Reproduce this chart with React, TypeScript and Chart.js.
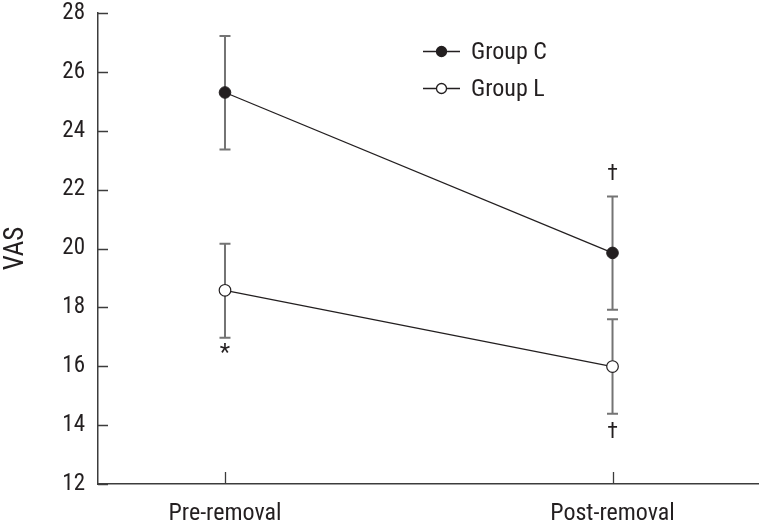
import React, { useEffect, useRef } from "react";
import { Chart, registerables } from "chart.js";

Chart.register(...registerables);

const categories = ["Pre-removal", "Post-removal"];
const categoryX = [0, 1];
const seriesNames = ["Group C", "Group L"];
const groupCMean = [25.3, 19.85];
const groupCLow = [23.36, 17.92];
const groupCHigh = [27.22, 21.77];
const groupLMean = [18.58, 15.99];
const groupLLow = [16.97, 14.39];
const groupLHigh = [20.16, 17.6];
const yTicks = [12, 14, 16, 18, 20, 22, 24, 26, 28];
// significance marks: category index, series, end of error bar, symbol
const markCategory = [0, 1, 1];
const markSeries = ["L", "C", "L"];
const markEnd = ["low", "high", "low"];
const markSymbol = ["*", "\u2020", "\u2020"];

const FONT = "'Liberation Sans Narrow', 'Roboto Condensed', 'Arial Narrow', Roboto, sans-serif";
const INK = "#231f20";
const AXIS = "#3c3c3c";
const ERR = "#747474";

const overlayPlugin = {
  id: "overlay",
  beforeDatasetsDraw(chart: any) {
    const { ctx, scales } = chart;
    const xs = scales.x;
    const ys = scales.y;
    ctx.save();
    ctx.strokeStyle = ERR;
    ctx.lineWidth = 2;
    const groups = [
      { lo: groupCLow, hi: groupCHigh },
      { lo: groupLLow, hi: groupLHigh },
    ];
    groups.forEach((g) => {
      categoryX.forEach((cx, i) => {
        const px = xs.getPixelForValue(cx);
        const pl = ys.getPixelForValue(g.lo[i]);
        const ph = ys.getPixelForValue(g.hi[i]);
        ctx.beginPath();
        ctx.moveTo(px, pl);
        ctx.lineTo(px, ph);
        ctx.moveTo(px - 5.5, pl);
        ctx.lineTo(px + 5.5, pl);
        ctx.moveTo(px - 5.5, ph);
        ctx.lineTo(px + 5.5, ph);
        ctx.stroke();
      });
    });
    ctx.restore();
  },
  afterDraw(chart: any) {
    const { ctx, scales, chartArea } = chart;
    const xs = scales.x;
    const ys = scales.y;
    ctx.save();
    ctx.strokeStyle = AXIS;
    ctx.lineWidth = 1.3;
    ctx.beginPath();
    yTicks.forEach((v) => {
      const py = Math.round(ys.getPixelForValue(v)) + 0.5;
      ctx.moveTo(chartArea.left, py);
      ctx.lineTo(chartArea.left + 10, py);
    });
    categoryX.forEach((cx) => {
      const px = Math.round(xs.getPixelForValue(cx)) + 0.5;
      ctx.moveTo(px, chartArea.bottom);
      ctx.lineTo(px, chartArea.bottom - 12);
    });
    ctx.stroke();

    ctx.fillStyle = INK;
    ctx.textAlign = "center";
    ctx.textBaseline = "middle";
    markCategory.forEach((ci, k) => {
      const isC = markSeries[k] === "C";
      const vals =
        markEnd[k] === "low"
          ? isC ? groupCLow : groupLLow
          : isC ? groupCHigh : groupLHigh;
      const px = xs.getPixelForValue(categoryX[ci]);
      const py = ys.getPixelForValue(vals[ci]);
      const sym = markSymbol[k];
      if (sym === "*") {
        ctx.font = `24px ${FONT}`;
        ctx.fillText(sym, px, py + 16);
      } else {
        ctx.font = `22px ${FONT}`;
        ctx.fillText(sym, px, py + (markEnd[k] === "low" ? 19 : -22));
      }
    });

    const rows = [
      { y: 51.5, fill: INK },
      { y: 88.5, fill: "#ffffff" },
    ];
    rows.forEach((r, i) => {
      ctx.strokeStyle = INK;
      ctx.lineWidth = 1.3;
      ctx.beginPath();
      ctx.moveTo(423, r.y);
      ctx.lineTo(460, r.y);
      ctx.stroke();
      ctx.beginPath();
      ctx.arc(441.5, r.y, 5, 0, Math.PI * 2);
      ctx.fillStyle = r.fill;
      ctx.fill();
      ctx.stroke();
      ctx.fillStyle = INK;
      ctx.textAlign = "left";
      ctx.textBaseline = "middle";
      ctx.font = `24px ${FONT}`;
      ctx.fillText(seriesNames[i], 471, r.y + 1);
    });
    ctx.restore();
  },
};

export default function App() {
  const ref = useRef<HTMLCanvasElement | null>(null);
  useEffect(() => {
    if (!ref.current) return;
    const chart = new Chart(ref.current, {
      type: "line",
      data: {
        datasets: [
          {
            label: seriesNames[0],
            data: categoryX.map((x, i) => ({ x, y: groupCMean[i] })),
            borderColor: INK,
            borderWidth: 1.3,
            backgroundColor: INK,
            pointBackgroundColor: INK,
            pointBorderColor: INK,
            pointRadius: 5.8,
            pointBorderWidth: 1,
          },
          {
            label: seriesNames[1],
            data: categoryX.map((x, i) => ({ x, y: groupLMean[i] })),
            borderColor: INK,
            borderWidth: 1.3,
            backgroundColor: "#ffffff",
            pointBackgroundColor: "#ffffff",
            pointBorderColor: INK,
            pointRadius: 5.8,
            pointBorderWidth: 1.2,
          },
        ],
      },
      options: {
        animation: false,
        responsive: false,
        devicePixelRatio: 1,
        layout: { autoPadding: false, padding: { top: 13, right: 0, left: 0, bottom: 0 } },
        plugins: {
          legend: { display: false },
          tooltip: { enabled: false },
        },
        scales: {
          x: {
            type: "linear",
            min: -0.3277,
            max: 1.378,
            afterBuildTicks: (s: any) => {
              s.ticks = categoryX.map((v) => ({ value: v }));
            },
            afterFit: (s: any) => {
              s.height = 39;
              s.paddingLeft = 0;
              s.paddingRight = 0;
            },
            grid: { display: false, drawTicks: false },
            border: { display: true, color: AXIS, width: 1.5 },
            ticks: {
              padding: 16,
              color: INK,
              font: { family: FONT, size: 24 },
              maxRotation: 0,
              autoSkip: false,
              callback: (v: any) => categories[categoryX.indexOf(Number(v))] ?? "",
            },
          },
          y: {
            type: "linear",
            min: 12,
            max: 28,
            afterBuildTicks: (s: any) => {
              s.ticks = yTicks.map((v) => ({ value: v }));
            },
            afterFit: (s: any) => {
              s.width = 98;
              s.paddingTop = 0;
              s.paddingBottom = 0;
            },
            grid: { display: false, drawTicks: false },
            border: { display: true, color: AXIS, width: 1.5 },
            ticks: {
              padding: 13,
              color: INK,
              font: { family: FONT, size: 23 },
            },
            title: {
              display: true,
              text: "VAS",
              color: INK,
              font: { family: FONT, size: 27 },
              padding: 0,
            },
          },
        },
      },
      plugins: [overlayPlugin],
    });
    return () => chart.destroy();
  }, []);
  return (
    <div style={{ position: "fixed", left: 0, top: 0, width: 759, height: 523, background: "#fff" }}>
      <canvas ref={ref} width={759} height={523} style={{ display: "block" }} />
    </div>
  );
}
